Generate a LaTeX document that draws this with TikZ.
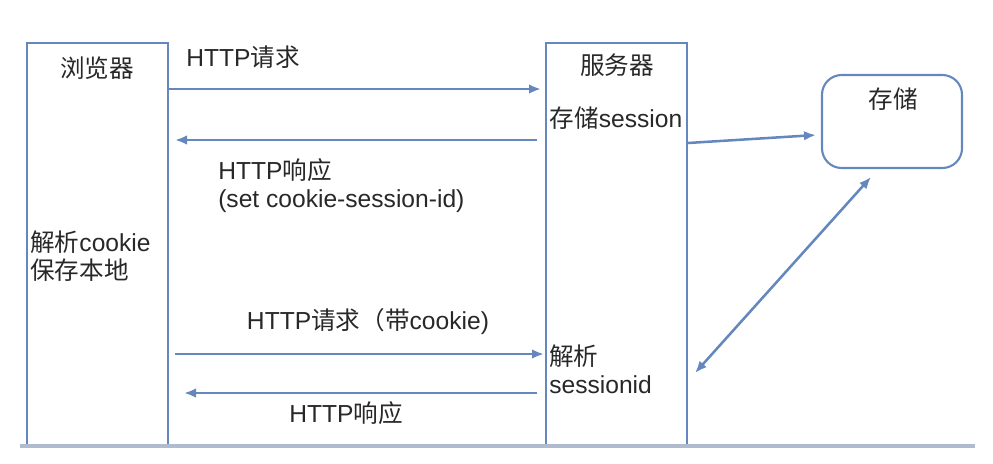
\documentclass[tikz,border=0pt]{standalone}
\usepackage{fontspec}
\setmainfont{Liberation Sans}
\newfontfamily\cjk{Noto Sans CJK SC}
\newcommand{\zh}[1]{{\cjk #1}}
\usepackage{xcolor}
\usetikzlibrary{arrows.meta,positioning,calc}
\definecolor{lineblue}{RGB}{100,135,190}
\definecolor{txtgray}{RGB}{40,40,40}
\definecolor{floorgray}{RGB}{175,188,208}
\tikzset{
  party/.style  ={draw=lineblue,line width=1.5pt,minimum width=141*0.025cm,
                  minimum height=403*0.025cm,inner sep=0pt},
  storebox/.style={draw=lineblue,line width=1.5pt,rounded corners=14pt,
                  minimum width=140*0.025cm,minimum height=93*0.025cm,inner sep=0pt},
  lbl/.style    ={text=txtgray,align=left,inner sep=0pt},
  arr/.style    ={-{Latex[length=3mm,width=2.4mm]},draw=lineblue,line width=1.8pt},
  dblarr/.style ={{Latex[length=3mm,width=2.4mm]}-{Latex[length=3mm,width=2.4mm]},
                  draw=lineblue,line width=1.8pt},
}

\begin{document}
\begin{tikzpicture}[x=0.025cm,y=-0.025cm,font=\fontsize{17.5}{20}\selectfont]
\useasboundingbox (0,0) rectangle (993,463);

% parties
\node[party] (browser) at (97.5,244.5) {};
\node[party] (server)  at (616.5,244.5) {};
\node[storebox] (store) at (892,121.5) {};

\node[lbl] (tbrowser) at (97,68)  {\zh{浏览器}};
\node[lbl] (tserver)  at (617,65) {\zh{服务器}};
\node[lbl] (tsave)    at (616,118) {\zh{存储}session};
\node[lbl] (tstore)   at (893,99) {\zh{存储}};
\node[lbl,anchor=west] (tparse) at (30,256) {\zh{解析}cookie\\\zh{保存本地}};
\node[lbl,anchor=west] (tsid)   at (549,369) {\zh{解析}\\sessionid};

% 1. request
\coordinate (r1a) at (168,89);
\coordinate (r1b) at (541,89);
\draw[arr] (r1a) -- (r1b);
\node[lbl,anchor=west] (l1) at (186,57) {HTTP\zh{请求}};

% 2. response with cookie
\coordinate (r2a) at (537,140);
\coordinate (r2b) at (175,140);
\draw[arr] (r2a) -- (r2b);
\node[lbl,anchor=west] (l2) at (218,186) {HTTP\zh{响应}\\(set cookie-session-id)};

% 3. store session
\coordinate (s1a) at (688,143);
\coordinate (s1b) at (816,135);
\draw[arr] (s1a) -- (s1b);

% 4. request with cookie
\coordinate (r3a) at (175,354);
\coordinate (r3b) at (544,354);
\draw[arr] (r3a) -- (r3b);
\node[lbl] (l3) at (368,322) {HTTP\zh{请求（带}cookie)};

% 5. response
\coordinate (r4a) at (537,393);
\coordinate (r4b) at (184,393);
\draw[arr] (r4a) -- (r4b);
\node[lbl] (l4) at (346,413) {HTTP\zh{响应}};

% 6. lookup
\coordinate (q1a) at (695,373);
\coordinate (q1b) at (871,177);
\draw[dblarr] (q1a) -- (q1b);

% floor line
\coordinate (fa) at (20,446);
\coordinate (fb) at (975,446);
\draw[floorgray,line width=3pt] (fa) -- (fb);
\end{tikzpicture}
\end{document}
